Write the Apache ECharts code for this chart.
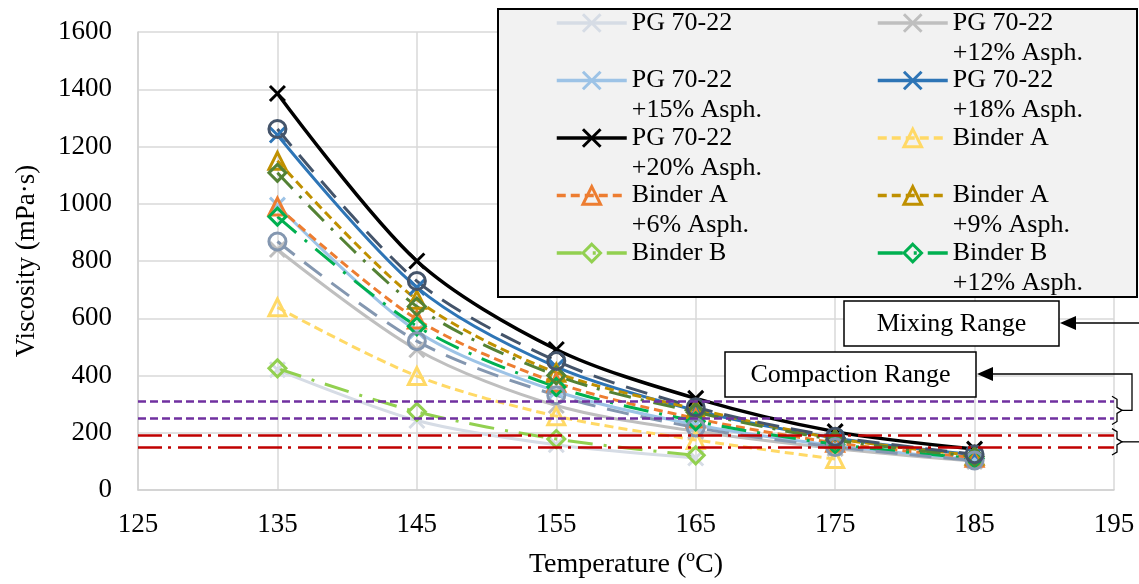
<!DOCTYPE html>
<html><head><meta charset="utf-8">
<script src="https://cdn.jsdelivr.net/npm/echarts@6/dist/echarts.min.js"></script>
<style>html,body{margin:0;padding:0;background:#fff}#c{width:1139px;height:584px}</style>
</head><body><div id="c"></div><script>
// ---- data ----
const temps = [135, 145, 155, 165, 175, 185];
const pg      = [420, 243, 158, 112, null, null];
const pg12    = [840, 490, 295, 205, 145, 100];
const pg15    = [995, 555, 345, 228, 155, 106];
const pg18    = [1240, 708, 430, 278, 182, 123];
const pg20    = [1385, 800, 491, 320, 204, 143];
const binderA = [638, 398, 258, 175, 108, null];
const binderA6 = [990, 596, 375, 250, 165, 113];
const binderA9 = [1150, 665, 410, 283, 180, 120];
const binderB = [425, 273, 178, 121, null, null];
const binderB12 = [955, 572, 360, 240, 160, 110];
const extraOlive = [1108, 641, 400, 272, 175, 117];
const extraSlate = [1261, 730, 451, 289, 186, 125];
const extraSlateGrey = [868, 520, 331, 218, 150, 103];
const compactionRange = [250, 310];
const mixingRange = [150, 190];
const xTicks = {min: 125, max: 195, interval: 10};
const yTicks = {min: 0, max: 1600, interval: 200};
const names = ['PG 70-22', 'PG 70-22\n+12% Asph.', 'PG 70-22\n+15% Asph.', 'PG 70-22\n+18% Asph.',
  'PG 70-22\n+20% Asph.', 'Binder A', 'Binder A\n+6% Asph.', 'Binder A\n+9% Asph.', 'Binder B', 'Binder B\n+12% Asph.'];
const annotationTexts = ['Mixing Range', 'Compaction Range'];
const xName = 'Temperature (ºC)';
const yName = 'Viscosity (mPa·s)';

const FONT = "'Liberation Serif', 'Times New Roman', serif";
const X_SYM = 'path://M0,0L20,20M0,20L20,0';
function pairs(arr) { return temps.map((t, i) => [t, arr[i]]).filter(p => p[1] != null); }
function mk(name, arr, color, dash, symbol, size, width) {
  return {
    name: name, type: 'line', data: pairs(arr), smooth: 0.3,
    symbol: symbol, symbolSize: size, showSymbol: true,
    lineStyle: {color: color, width: width || 3, type: dash},
    itemStyle: {color: 'rgba(255,255,255,0)', borderColor: color, borderWidth: 3},
    emphasis: {disabled: true}, z: 2
  };
}
const series = [
  mk(names[0], pg, '#d6dce5', 'solid', X_SYM, 15),
  mk(names[1], pg12, '#bfbfbf', 'solid', X_SYM, 15),
  mk(names[2], pg15, '#9dc3e6', 'solid', X_SYM, 15),
  mk(names[3], pg18, '#2e75b6', 'solid', X_SYM, 15),
  mk(names[4], pg20, '#000000', 'solid', X_SYM, 15, 3.5),
  mk(names[5], binderA, '#ffd966', [9, 5], 'triangle', 17),
  mk(names[6], binderA6, '#ed7d31', [9, 5], 'triangle', 17),
  mk(names[7], binderA9, '#bf9000', [9, 5], 'triangle', 17),
  mk(names[8], binderB, '#92d050', [25, 11, 3, 11], 'diamond', 17),
  mk(names[9], binderB12, '#00b050', [25, 11, 3, 11], 'diamond', 17),
  mk('s11', extraOlive, '#548235', [22, 10, 3, 10], 'diamond', 17),
  mk('s12', extraSlateGrey, '#8497b0', [22, 12], 'circle', 17),
  mk('s13', extraSlate, '#44546a', [22, 12], 'circle', 17)
];
series[0].markLine = {
  silent: true, symbol: 'none', label: {show: false}, animation: false,
  data: [
    {yAxis: compactionRange[1], lineStyle: {color: '#7030a0', type: [8, 4], width: 2.5}},
    {yAxis: compactionRange[0], lineStyle: {color: '#7030a0', type: [8, 4], width: 2.5}},
    {yAxis: mixingRange[1], lineStyle: {color: '#c00000', type: [24, 6, 3, 7], width: 2.5}},
    {yAxis: mixingRange[0], lineStyle: {color: '#c00000', type: [24, 6, 3, 7], width: 2.5}}
  ]
};
function legendCol(left, idx) {
  return {
    orient: 'vertical', left: left, top: -22, padding: 0,
    itemWidth: 70, itemHeight: 22, itemGap: -32.5, selectedMode: false,
    data: idx.map(i => names[i]),
    // blank first line so the name's first line sits level with the icon
    formatter: n => ' \n' + (n.indexOf('\n') >= 0 ? n : n + '\n '),
    textStyle: {fontFamily: FONT, fontSize: 26, lineHeight: 30, color: '#000'},
    itemStyle: {borderWidth: 3}, lineStyle: {width: 3.5},
    z: 6
  };
}
const chart = echarts.init(document.getElementById('c'), null, {renderer: 'canvas'});
chart.setOption({
  animation: false,
  backgroundColor: '#fff',
  grid: {left: 138, right: 25, top: 32, bottom: 93},
  xAxis: {
    type: 'value', min: xTicks.min, max: xTicks.max, interval: xTicks.interval,
    name: xName, nameLocation: 'middle', nameGap: 61,
    nameTextStyle: {fontFamily: FONT, fontSize: 28, color: '#000'},
    axisLine: {show: true, lineStyle: {color: '#d0d0d0', width: 1.5}},
    axisTick: {show: false},
    axisLabel: {fontFamily: FONT, fontSize: 27, color: '#000', margin: 21, formatter: v => String(v)},
    splitLine: {show: true, lineStyle: {color: '#d9d9d9', width: 1.5}}
  },
  yAxis: {
    type: 'value', min: yTicks.min, max: yTicks.max, interval: yTicks.interval,
    name: yName, nameLocation: 'middle', nameGap: 98,
    nameTextStyle: {fontFamily: FONT, fontSize: 27, color: '#000'},
    axisLine: {show: true, lineStyle: {color: '#d0d0d0', width: 1.5}},
    axisTick: {show: false},
    axisLabel: {fontFamily: FONT, fontSize: 27, color: '#000', margin: 26, formatter: v => String(v)},
    splitLine: {show: true, lineStyle: {color: '#d9d9d9', width: 1.5}}
  },
  legend: [legendCol(555, [0, 2, 4, 6, 8]), legendCol(876, [1, 3, 5, 7, 9])],
  series: series
});

// annotations positioned from the y scale
const py = v => chart.convertToPixel({yAxisIndex: 0}, v);
const cTop = py(compactionRange[1]) - 5, cBot = py(compactionRange[0]) + 6, cMid = (cTop + cBot) / 2;
const mTop = py(mixingRange[1]) - 7, mBot = py(mixingRange[0]) + 8, mMid = (mTop + mBot) / 2;
const bx = 1117;
function bracket(t, b, m) {
  return {type: 'polyline', z: 5, shape: {points: [[bx - 5, t], [bx, t + 3], [bx, m - 3], [bx + 5, m], [bx, m + 3], [bx, b - 3], [bx - 5, b]]},
    style: {stroke: '#000', lineWidth: 1.3, fill: null}};
}
chart.setOption({
  graphic: [
    {type: 'rect', z: 3, shape: {x: 498, y: 9, width: 639, height: 288}, style: {fill: '#f2f2f2', stroke: '#000', lineWidth: 2}},
    {type: 'rect', z: 5, shape: {x: 844, y: 301, width: 215, height: 45}, style: {fill: '#fff', stroke: '#000', lineWidth: 1.5}},
    {type: 'text', z: 6, x: 951.5, y: 324, style: {text: annotationTexts[0], font: '26px ' + FONT, fill: '#000', align: 'center', verticalAlign: 'middle'}},
    {type: 'polygon', z: 6, shape: {points: [[1060, 323], [1076, 316], [1076, 330]]}, style: {fill: '#000'}},
    {type: 'line', z: 6, shape: {x1: 1076, y1: 323, x2: 1139, y2: 323}, style: {stroke: '#000', lineWidth: 1.3}},
    {type: 'rect', z: 5, shape: {x: 725, y: 352, width: 251, height: 45}, style: {fill: '#fff', stroke: '#000', lineWidth: 1.5}},
    {type: 'text', z: 6, x: 850.5, y: 375, style: {text: annotationTexts[1], font: '26px ' + FONT, fill: '#000', align: 'center', verticalAlign: 'middle'}},
    {type: 'polygon', z: 6, shape: {points: [[977, 374], [993, 367], [993, 381]]}, style: {fill: '#000'}},
    {type: 'polyline', z: 6, shape: {points: [[993, 374], [1132, 374], [1132, cMid], [bx + 5, cMid]]}, style: {stroke: '#000', lineWidth: 1.3, fill: null}},
    bracket(cTop, cBot, cMid),
    bracket(mTop, mBot, mMid),
    {type: 'line', z: 6, shape: {x1: bx + 5, y1: mMid, x2: 1139, y2: mMid}, style: {stroke: '#000', lineWidth: 1.3}}
  ]
});
</script></body></html>
